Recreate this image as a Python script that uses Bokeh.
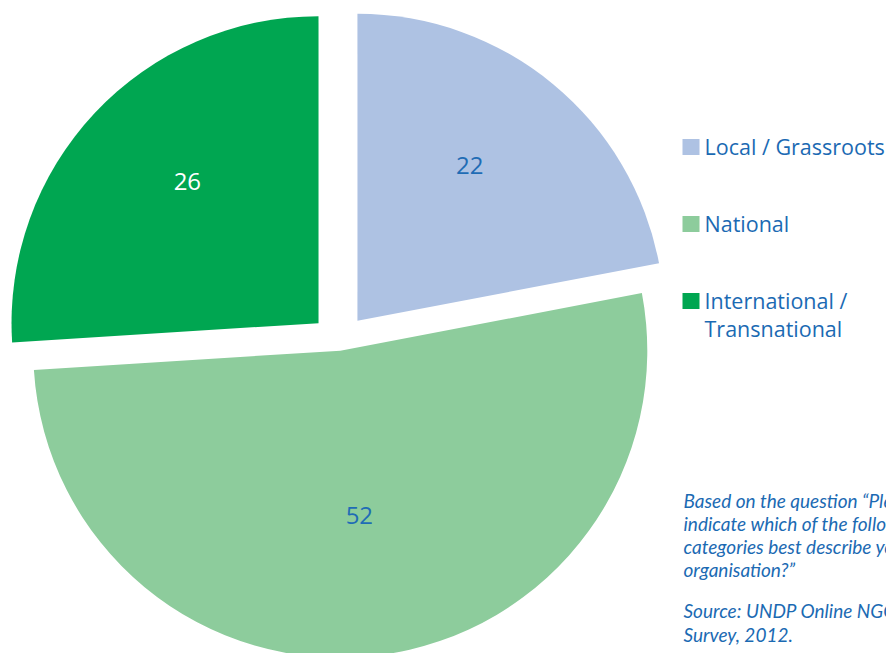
import math
from bokeh.plotting import figure
from bokeh.models import Range1d
from bokeh.core.properties import value
from bokeh.embed import file_html
from bokeh.resources import INLINE

# ---- data ----
categories = ["Local / Grassroots", "National", "International / Transnational"]
values = [22, 52, 26]
slice_colors = ["#AEC2E3", "#8DCC9C", "#00A651"]
label_colors = ["#1F6CB5", "#1F6CB5", "#FFFFFF"]
legend_lines = [["Local / Grassroots"], ["National"], ["International /", "Transnational"]]
note_lines = [
    "Based on the question \u201cPlease",
    "indicate which of the following",
    "categories best describe your",
    "organisation?\u201d",
]
source_lines = ["Source: UNDP Online NGO", "Survey, 2012."]

# ---- layout / style ----
W, H = 886, 653
TEXT_BLUE = "#1B6AB3"
FONT = "Open Sans"
NOTE_FONT = "Lato"
PAGE_H = H
def Y(y_ref):
    return PAGE_H - y_ref

cx, cy = 338.8, Y(342.2)
radius = 307
explode = [28.5, 8, 28.5]
label_frac = [0.625, 0.54, 0.63]
label_rot = [-3.8, 0.6, 4.1]  # degrees

p = figure(width=W, height=H, output_backend="svg", toolbar_location=None,
           x_range=Range1d(0, W), y_range=Range1d(0, H), min_border=0)
p.axis.visible = False
p.grid.visible = False
p.outline_line_color = None
p.background_fill_color = "white"
p.border_fill_color = "white"

total = float(sum(values))
cum = 0.0
for i, v in enumerate(values):
    a0 = cum / total * 2 * math.pi
    a1 = (cum + v) / total * 2 * math.pi
    cum += v
    mid = (a0 + a1) / 2
    dx, dy = math.sin(mid), math.cos(mid)
    sx, sy = cx + explode[i] * dx, cy + explode[i] * dy
    p.wedge(x=sx, y=sy, radius=radius,
            start_angle=math.pi / 2 - a0, end_angle=math.pi / 2 - a1,
            direction="clock", fill_color=slice_colors[i], line_color=None)
    la = mid + math.radians(label_rot[i])
    lx = sx + label_frac[i] * radius * math.sin(la)
    ly = sy + label_frac[i] * radius * math.cos(la)
    p.text(x=[lx], y=[ly], text=[str(v)], text_align="center", text_baseline="middle",
           text_color=label_colors[i], text_font=value(FONT), text_font_size="24px")

# legend
leg_x = 682
leg_y0 = 146.5
leg_step = 77
sq = 17
for i, lines in enumerate(legend_lines):
    yc = leg_y0 + i * leg_step
    p.rect(x=[leg_x + sq / 2], y=[Y(yc)], width=sq, height=sq - 1,
           fill_color=slice_colors[i], line_color=None)
    for j, t in enumerate(lines):
        p.text(x=[leg_x + 22], y=[Y(yc - 0.5 + j * 28)], text=[t], text_align="left",
               text_baseline="middle", text_color=TEXT_BLUE,
               text_font=value(FONT), text_font_size="21.5px")

# note
note_x = 683
for j, t in enumerate(note_lines):
    p.text(x=[note_x], y=[Y(500 + j * 23)], text=[t], text_align="left",
           text_baseline="middle", text_color=TEXT_BLUE, text_font=value(NOTE_FONT),
           text_font_size="19px", text_font_style="italic")
for j, t in enumerate(source_lines):
    p.text(x=[note_x], y=[Y(610 + j * 24)], text=[t], text_align="left",
           text_baseline="middle", text_color=TEXT_BLUE, text_font=value(NOTE_FONT),
           text_font_size="19px", text_font_style="italic")

open("out.html", "w").write(file_html(p, INLINE))
